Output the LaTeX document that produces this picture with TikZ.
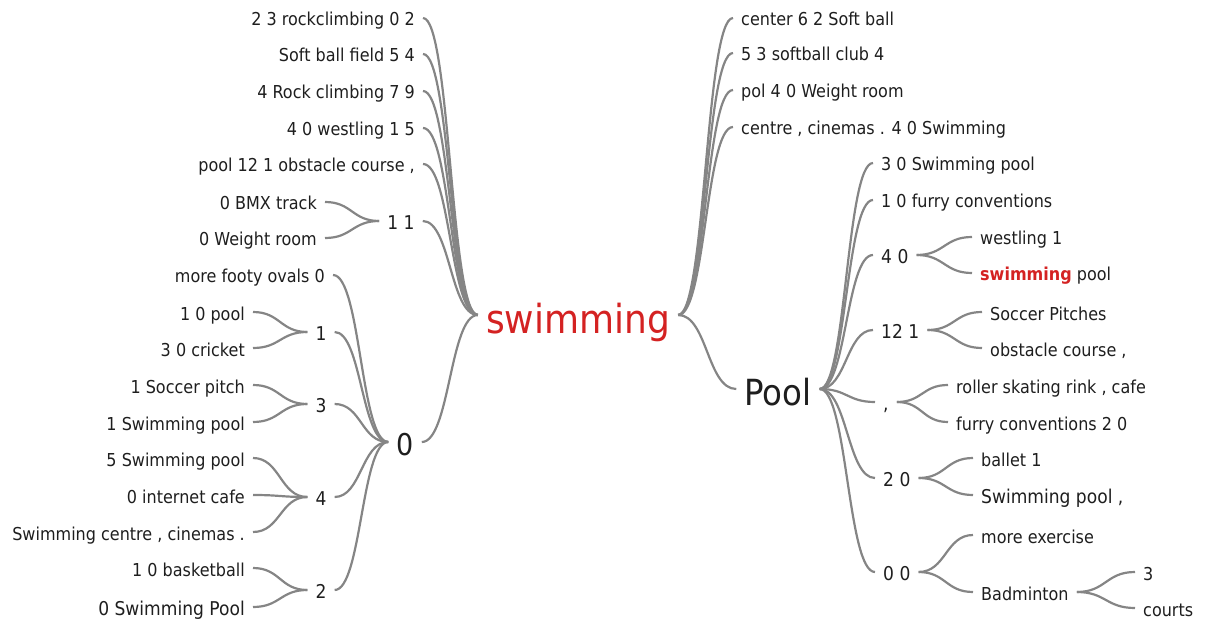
\documentclass[tikz,border=0pt]{standalone}
\usepackage{fontspec}
\setmainfont{DejaVu Sans}[FakeStretch=0.9]
\usetikzlibrary{calc}
\definecolor{rootred}{HTML}{D42222}
\definecolor{linegray}{HTML}{858585}
\definecolor{txt}{HTML}{1E1E1E}
\tikzset{
  br/.style={to path={let \p1=(\tikztostart), \p2=(\tikztotarget), \n1={(\x1+\x2)/2} in .. controls (\n1,\y1) and (\n1,\y2) .. (\tikztotarget)}},
  conn/.style={draw=linegray, line width=2.2pt},
  base/.style={inner xsep=8pt, inner ysep=0pt, text depth=0pt, text=txt},
  leaf/.style={base, font=\fontsize{17.8}{20}\selectfont, text height=16pt},
  bigleaf/.style={base, font=\fontsize{19}{21}\selectfont, text height=17pt},
  mid/.style={base, font=\fontsize{19}{21}\selectfont, text height=17pt},
  rootnode/.style={base, font=\fontsize{40}{44}\selectfont, text height=36pt, text=rootred},
  poolnode/.style={base, font=\fontsize{36}{40}\selectfont, text height=32pt},
  zeronode/.style={base, font=\fontsize{30}{34}\selectfont, text height=27pt},
  L/.style={anchor=east},
  R/.style={anchor=west}
}
\begin{document}
\begin{tikzpicture}[x=1pt,y=-1pt]
\useasboundingbox (0,0) rectangle (1207,620);
% root
\node[rootnode] (root) at (578,315) {swimming};
% left branch of root
\node[leaf,L] (a1) at (423,18) {2 3 rockclimbing 0 2};
\node[leaf,L] (a2) at (423,54) {Soft ball field 5 4};
\node[leaf,L] (a3) at (423,91) {4 Rock climbing 7 9};
\node[leaf,L] (a4) at (423,128) {4 0 westling 1 5};
\node[leaf,L] (a5) at (423,164) {pool 12 1 obstacle course ,};
\node[mid] (a6) at (401,221) {1 1};
\node[leaf,L] (b1) at (325,202) {0 BMX track};
\node[leaf,L] (b2) at (325,238) {0 Weight room};
\node[zeronode] (a7) at (405,442) {0};
\node[leaf,L] (c1) at (333,275) {more footy ovals 0};
\node[mid] (c2) at (321,332) {1};
\node[leaf,L] (d1) at (253,312) {1 0 pool};
\node[leaf,L] (d2) at (253,348) {3 0 cricket};
\node[mid] (c3) at (321,404) {3};
\node[leaf,L] (d3) at (253,385) {1 Soccer pitch};
\node[leaf,L] (d4) at (253,422) {1 Swimming pool};
\node[mid] (c4) at (321,497) {4};
\node[leaf,L] (d5) at (253,458) {5 Swimming pool};
\node[leaf,L] (d6) at (253,495) {0 internet cafe};
\node[leaf,L] (d7) at (253,532) {Swimming centre , cinemas .};
\node[mid] (c5) at (321,590) {2};
\node[leaf,L] (d8) at (253,568) {1 0 basketball};
\node[bigleaf,L] (d9) at (253,607) {0 Swimming Pool};
% right branch of root
\node[leaf,R] (e1) at (733,18) {center 6 2 Soft ball};
\node[leaf,R] (e2) at (733,53) {5 3 softball club 4};
\node[leaf,R] (e3) at (733,90) {pol 4 0 Weight room};
\node[leaf,R] (e4) at (733,127) {centre , cinemas . 4 0 Swimming};
\node[poolnode] (pool) at (778,389) {Pool};
\node[leaf,R] (f1) at (873,163) {3 0 Swimming pool};
\node[leaf,R] (f2) at (873,200) {1 0 furry conventions};
\node[mid,R] (f3) at (873,255) {4 0};
\node[leaf,R] (g1) at (972,237) {westling 1};
\node[leaf,R] (g2) at (972,273) {\textcolor{rootred}{\bfseries swimming} pool};
\node[mid,R] (f4) at (873,330) {12 1};
\node[leaf,R] (g3) at (982,312) {Soccer Pitches};
\node[leaf,R] (g4) at (982,348) {obstacle course ,};
\node[mid,R] (f5) at (875,402) {,};
\node[leaf,R] (g5) at (948,385) {roller skating rink , cafe};
\node[leaf,R] (g6) at (948,422) {furry conventions 2 0};
\node[mid,R] (f6) at (875,478) {2 0};
\node[leaf,R] (g7) at (973,458) {ballet 1};
\node[bigleaf,R] (g8) at (973,495) {Swimming pool ,};
\node[mid,R] (f7) at (875,572) {0 0};
\node[leaf,R] (g9) at (973,535) {more exercise};
\node[leaf,R] (g10) at (973,592) {Badminton};
\node[leaf,R] (h1) at (1135,572) {3};
\node[leaf,R] (h2) at (1135,608) {courts};
% connectors
\foreach \c in {a1,a2,a3,a4,a5,a6,a7} \draw[conn] (root.west) to[br] (\c.east);
\foreach \c in {b1,b2} \draw[conn] (a6.west) to[br] (\c.east);
\foreach \c in {c1,c2,c3,c4,c5} \draw[conn] (a7.west) to[br] (\c.east);
\foreach \c in {d1,d2} \draw[conn] (c2.west) to[br] (\c.east);
\foreach \c in {d3,d4} \draw[conn] (c3.west) to[br] (\c.east);
\foreach \c in {d5,d6,d7} \draw[conn] (c4.west) to[br] (\c.east);
\foreach \c in {d8,d9} \draw[conn] (c5.west) to[br] (\c.east);
\foreach \c in {e1,e2,e3,e4,pool} \draw[conn] (root.east) to[br] (\c.west);
\foreach \c in {f1,f2,f3,f4,f5,f6,f7} \draw[conn] (pool.east) to[br] (\c.west);
\foreach \c in {g1,g2} \draw[conn] (f3.east) to[br] (\c.west);
\foreach \c in {g3,g4} \draw[conn] (f4.east) to[br] (\c.west);
\foreach \c in {g5,g6} \draw[conn] (f5.east) to[br] (\c.west);
\foreach \c in {g7,g8} \draw[conn] (f6.east) to[br] (\c.west);
\foreach \c in {g9,g10} \draw[conn] (f7.east) to[br] (\c.west);
\foreach \c in {h1,h2} \draw[conn] (g10.east) to[br] (\c.west);
\end{tikzpicture}
\end{document}
